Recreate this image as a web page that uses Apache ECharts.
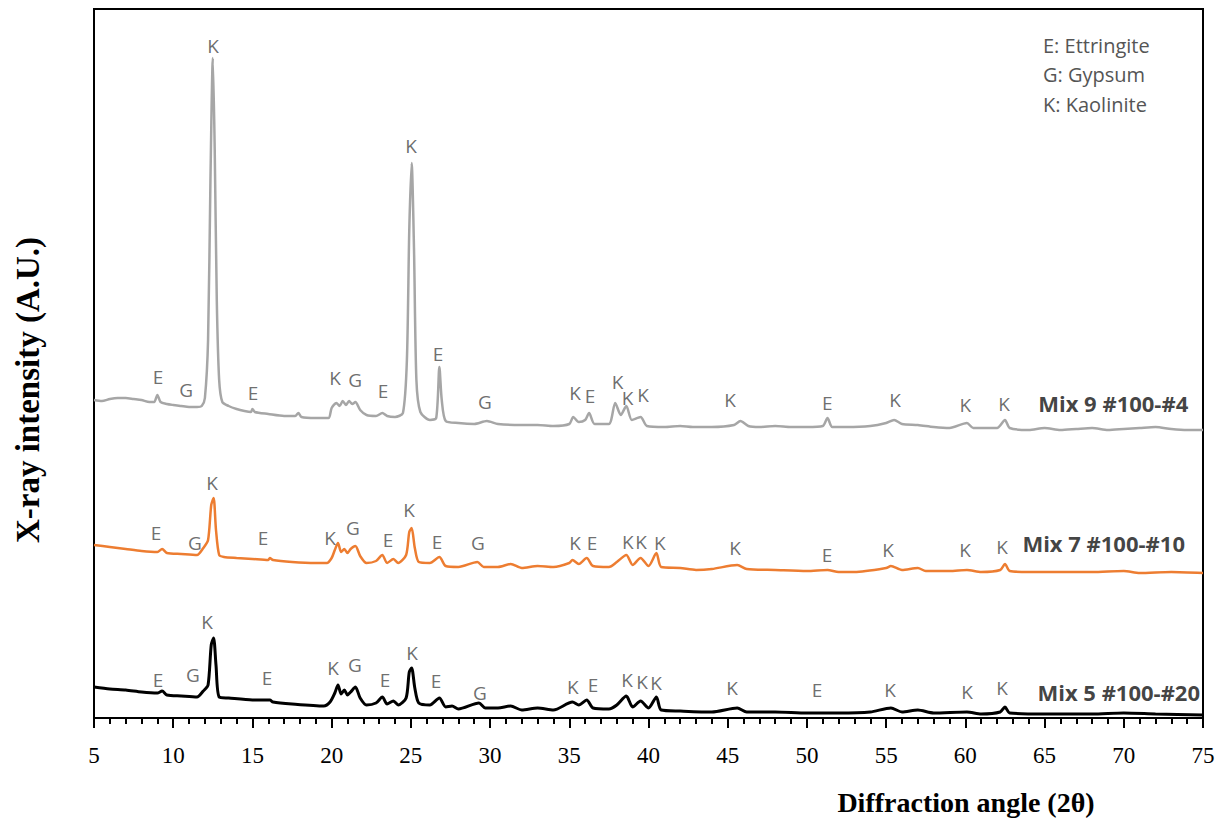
<!DOCTYPE html>
<html>
<head>
<meta charset="utf-8">
<script src="https://cdn.jsdelivr.net/npm/echarts@6/dist/echarts.min.js"></script>
<style>
html,body{margin:0;padding:0;background:#fff;}
#chart{width:1225px;height:823px;}
</style>
</head>
<body>
<div id="chart"></div>
<script>
// ---- DATA (2θ, intensity in arbitrary units, traces offset vertically) ----
const xTicks = [5,10,15,20,25,30,35,40,45,50,55,60,65,70,75];

const mix9 = [
[5,318],[5.5,317],[6,319],[6.5,320],[7,320],[7.5,319],[8,318],[8.5,316],[8.8,316],[9.0,323],[9.2,316],[9.6,314],[10,313],[10.5,312],[11,311],[11.5,311],[11.8,312],
[12.0,320],[12.2,378],[12.35,538],[12.5,660],[12.62,568],[12.75,418],[12.9,338],[13.1,316],[13.5,312],[14,309],[14.5,307],[14.9,306],[15.0,309],[15.15,306],[16,304],[17,302],[17.7,302],[17.9,305],[18.1,301],[19,300],[19.8,300],
[20.0,310],[20.3,315],[20.5,312],[20.7,317],[20.9,313],[21.1,317],[21.3,314],[21.5,316],[21.8,308],[22.2,303],[22.8,302],[23.2,305],[23.5,302],[24,301],[24.5,305],
[24.75,358],[24.9,488],[25.05,555],[25.2,468],[25.35,338],[25.6,306],[26.2,298],[26.6,300],[26.8,351],[26.95,318],[27.2,297],[28,295],[29,294],[29.8,297],[30.5,294],[32,293],[33,293],[34,292],
[35,294],[35.25,301],[35.6,296],[36.0,298],[36.25,305],[36.6,294],[37.5,294],[37.9,315],[38.25,303],[38.6,312],[38.95,298],[39.5,301],[39.9,292],[41,291],[42,292],[42.8,291],[44,291],
[45.4,293],[45.8,297],[46.3,292],[47,291],[48,292],[49,291],[50,291],[51,292],[51.3,300],[51.6,291],[52.5,291],[54,292],[55,295],[55.5,298],[56,294],[57,293],[58,291],[59,290],
[60.1,295],[60.5,290],[62.0,290],[62.5,298],[62.8,290],[64,288],[65,290],[66,288],[67,289],[68,290],[69,288],[70,289],[71,290],[72,291],[73,289],[74,288],[75,288]
];

const mix7 = [
[5,173],[6,171],[7,169],[8,167],[9.0,166],[9.3,169],[9.6,165],[10.5,164],[11.5,163],[11.9,170],[12.2,178],[12.4,213],[12.55,220],[12.7,188],[12.9,163],[13.2,161],[14,160],[15,159],[16,158],[16.1,160],[16.3,158],[17.5,156],[19,155],[19.7,155],
[20.0,160],[20.2,168],[20.4,175],[20.6,166],[20.8,169],[21.0,165],[21.2,169],[21.5,172],[21.8,162],[22.2,155],[22.8,157],[23.2,163],[23.5,155],[23.9,159],[24.2,155],[24.7,163],[24.9,186],[25.05,190],[25.25,170],[25.5,156],
[26.2,155],[26.8,161],[27.2,152],[28,151],[29.2,156],[29.6,151],[30.5,151],[31.3,154],[32,150],[33,152],[34,151],[35.0,155],[35.2,158],[35.6,154],[36.1,160],[36.5,152],[37.5,151],[38.0,156],[38.6,163],[39.0,153],[39.5,160],[40.0,152],[40.5,165],[40.8,151],
[42,150],[43,148],[44,149],[45.6,153],[46.2,149],[48,148],[50,147],[51.3,148],[52,146],[53,146],[55,150],[55.3,152],[56,148],[57,150],[57.5,147],[59,147],[60.1,148],[61,146],[62.2,148],[62.5,154],[62.8,147],[64,146],[66,146],[68,146],[70,147],[71,145],[73,146],[75,145]
];

const mix5 = [
[5,31],[6,29],[7,28],[8,26],[9.0,25],[9.3,27],[9.6,23],[10.5,22],[11.5,21],[11.9,27],[12.2,33],[12.4,73],[12.55,80],[12.7,53],[12.9,21],[13.5,20],[15,18],[16.1,18],[16.3,16],[17.5,14],[19.5,12],[19.9,16],
[20.2,25],[20.4,33],[20.6,24],[20.8,28],[21.0,23],[21.2,26],[21.5,31],[21.8,20],[22.2,13],[22.8,15],[23.2,21],[23.5,14],[23.9,17],[24.2,13],[24.7,20],[24.9,46],[25.05,50],[25.25,30],[25.5,15],
[26.2,13],[26.8,20],[27.2,11],[27.6,12],[28,9],[29.3,15],[29.7,10],[30.5,10],[31.3,12],[32,8],[33,10],[34,8],[35.2,16],[35.6,13],[36.1,18],[36.5,10],[37.5,9],[38.0,13],[38.6,22],[39.0,11],[39.5,17],[40.0,10],[40.5,21],[40.8,8],
[42,7],[44,6],[45.6,10],[46.2,6],[48,6],[50,5],[52,5],[54,6],[55.3,10],[56,6],[57,8],[58,5],[60.1,6],[61,4],[62.2,6],[62.5,11],[62.8,5],[65,4],[68,4],[70,5],[72,4],[75,3]
];

// phase labels: [2θ, height, letter]
const mix9Labels = [
[9.04,341,'E'],[10.81,328,'G'],[12.51,672,'K'],[15.04,325,'E'],[20.21,340,'K'],[21.48,338,'G'],[23.25,327,'E'],[25.01,572,'K'],[26.72,364,'E'],[29.68,316,'G'],
[35.37,325,'K'],[36.31,322,'E'],[38.05,336,'K'],[38.68,320,'K'],[39.65,323,'K'],[45.15,318,'K'],[51.28,315,'E'],[55.57,318,'K'],[59.99,313,'K'],[62.45,314,'K']
];
const mix7Labels = [
[8.91,185,'E'],[11.37,175,'G'],[12.45,235,'K'],[15.67,180,'E'],[19.9,180,'K'],[21.35,190,'G'],[23.56,178,'E'],[24.88,208,'K'],[26.65,176,'E'],[29.24,175,'G'],
[35.36,175,'K'],[36.43,175,'E'],[38.7,176,'K'],[39.53,176,'K'],[40.72,175,'K'],[45.46,170,'K'],[51.27,163,'E'],[55.12,168,'K'],[59.98,168,'K'],[62.31,171,'K']
];
const mix5Labels = [
[9.04,38,'E'],[11.25,43,'G'],[12.13,96,'K'],[15.92,40,'E'],[20.09,50,'K'],[21.47,53,'G'],[23.37,38,'E'],[25.07,65,'K'],[26.59,37,'E'],[29.36,25,'G'],
[35.23,31,'K'],[36.5,33,'E'],[38.64,38,'K'],[39.59,36,'K'],[40.47,35,'K'],[45.27,30,'K'],[50.64,28,'E'],[55.24,28,'K'],[60.1,26,'K'],[62.31,30,'K']
];

// sample names: [left 2θ, height, name]
const sampleNames = [[64.6,315,'Mix 9 #100-#4'],[63.6,175,'Mix 7 #100-#10'],[64.55,26,'Mix 5 #100-#20']];
const legendLines = ['E: Ettringite','G: Gypsum','K: Kaolinite'];
const xTitle = 'Diffraction angle (2θ)';
const yTitle = 'X-ray intensity (A.U.)';

// ---- CHART ----
const chart = echarts.init(document.getElementById('chart'), null, {renderer:'svg'});
const peakFont = {fontFamily:'"Open Sans"', fontSize:19, lineHeight:14, color:'#484848'};
function labelSeries(arr){
  return {type:'scatter', data:arr.map(d=>({value:[d[0],d[1]], name:d[2]})), symbolSize:0, silent:true, z:5,
    labelLayout:{hideOverlap:false},
    label:{show:true, position:'inside', formatter:p=>p.name, ...peakFont}};
}
const option = {
  backgroundColor:'#fff',
  animation:false,
  grid:{left:94, right:22, top:9, bottom:105, show:true, borderColor:'#000', borderWidth:2, backgroundColor:'transparent'},
  xAxis:{type:'value', min:5, max:75, interval:5,
    axisLine:{show:true, onZero:false, lineStyle:{color:'#000', width:2}},
    axisTick:{show:true, inside:false, length:10, lineStyle:{color:'#000', width:2}},
    minorTick:{show:true, splitNumber:5, length:6, lineStyle:{color:'#000', width:2}},
    splitLine:{show:false},
    axisLabel:{margin:26, fontFamily:'"Liberation Serif"', fontSize:23, color:'#000', formatter:v=>xTicks.includes(v)?String(v):''}
  },
  yAxis:{type:'value', min:0, max:709, show:true, axisLine:{show:false}, axisTick:{show:false}, axisLabel:{show:false}, splitLine:{show:false}},
  series:[
    {name:'Mix 9 #100-#4', type:'line', data:mix9, showSymbol:false, symbol:'none', smooth:0.25, lineStyle:{color:'#a6a6a6', width:2.5}, z:3},
    {name:'Mix 7 #100-#10', type:'line', data:mix7, showSymbol:false, symbol:'none', smooth:0.25, lineStyle:{color:'#ed7d31', width:2.5}, z:3},
    {name:'Mix 5 #100-#20', type:'line', data:mix5, showSymbol:false, symbol:'none', smooth:0.25, lineStyle:{color:'#000', width:3}, z:3},
    labelSeries(mix9Labels), labelSeries(mix7Labels), labelSeries(mix5Labels),
    {type:'scatter', data:sampleNames.map(d=>({value:[d[0],d[1]], name:d[2]})), symbolSize:0, silent:true, z:5,
      label:{show:true, position:'right', distance:0, formatter:p=>p.name, fontFamily:'"Open Sans"', fontWeight:'bold', fontSize:22, color:'#111'}}
  ],
  graphic:[
    ...legendLines.map((t,i)=>({type:'text', left:1043, top:35+i*29.5, style:{text:t, font:'20px "Open Sans"', fill:'#555'}})),
    {type:'text', x:966, y:802, style:{text:xTitle, font:'bold 28px "Liberation Serif"', fill:'#000', align:'center', verticalAlign:'middle'}},
    {type:'text', x:28, y:390, rotation:Math.PI/2, style:{text:yTitle, font:'bold 33px "Liberation Serif"', fill:'#000', align:'center', verticalAlign:'middle'}}
  ]
};
chart.setOption(option);
</script>
</body>
</html>
